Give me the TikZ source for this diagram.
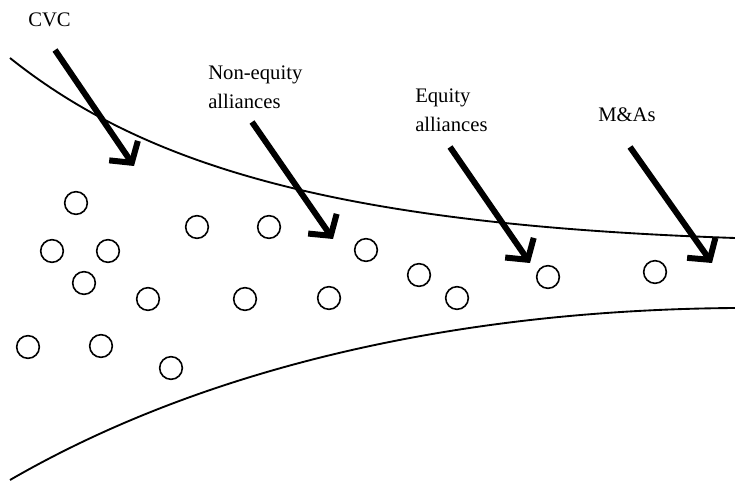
\documentclass[tikz,border=0pt]{standalone}
\usepackage{fontspec}
\setmainfont{Liberation Serif}
\usetikzlibrary{arrows.meta}

\tikzset{
  firm/.style={circle, draw, line width=1.2pt, minimum size=17pt, inner sep=0pt},
  entry/.style={line width=4.5pt, -{Straight Barb[length=11pt,width=26pt]}},
  mode/.style={anchor=west, align=left, font=\fontsize{15.5}{22}\selectfont, inner sep=0pt},
  border/.style={line width=1.4pt}
}

\begin{document}
\begin{tikzpicture}[x=0.75pt,y=0.75pt,yscale=-1,xscale=1]
\useasboundingbox (0,0) rectangle (735,488);

%Curve: upper border
\draw [border] (10,58) .. controls (150,170) and (350,225) .. (735,238) ;
%Curve: lower border
\draw [border] (10,480) .. controls (200,370) and (450,310) .. (735,308) ;

%Shape: Circles
\foreach \i/\x/\y in {1/76/203, 2/52/251, 3/108/251, 4/84/283, 5/28/347,
  6/101/346, 7/171/368, 8/148/299, 9/197/227, 10/269/227, 11/245/299,
  12/329/298, 13/366/250, 14/419/275, 15/457/298, 16/548/277, 17/655/272}
  \node [firm] (c\i) at (\x,\y) {};

%Text labels
\node [mode] (cvc) at (28,20) {CVC};
\node [mode] (noneq) at (208,87) {Non-equity\\alliances};
\node [mode] (eq) at (415,110) {Equity\\alliances};
\node [mode] (ma) at (598,115) {M\&As};

%Straight Lines: arrows
\coordinate (cvcs) at (55,50);   \coordinate (cvce) at (134,166);
\coordinate (noneqs) at (252,122); \coordinate (noneqe) at (333,239);
\coordinate (eqs) at (450,147);  \coordinate (eqe) at (530,263);
\coordinate (mas) at (630,147);  \coordinate (mae) at (712,263);
\draw [entry] (cvcs) -- (cvce) ;
\draw [entry] (noneqs) -- (noneqe) ;
\draw [entry] (eqs) -- (eqe) ;
\draw [entry] (mas) -- (mae) ;

\end{tikzpicture}
\end{document}
